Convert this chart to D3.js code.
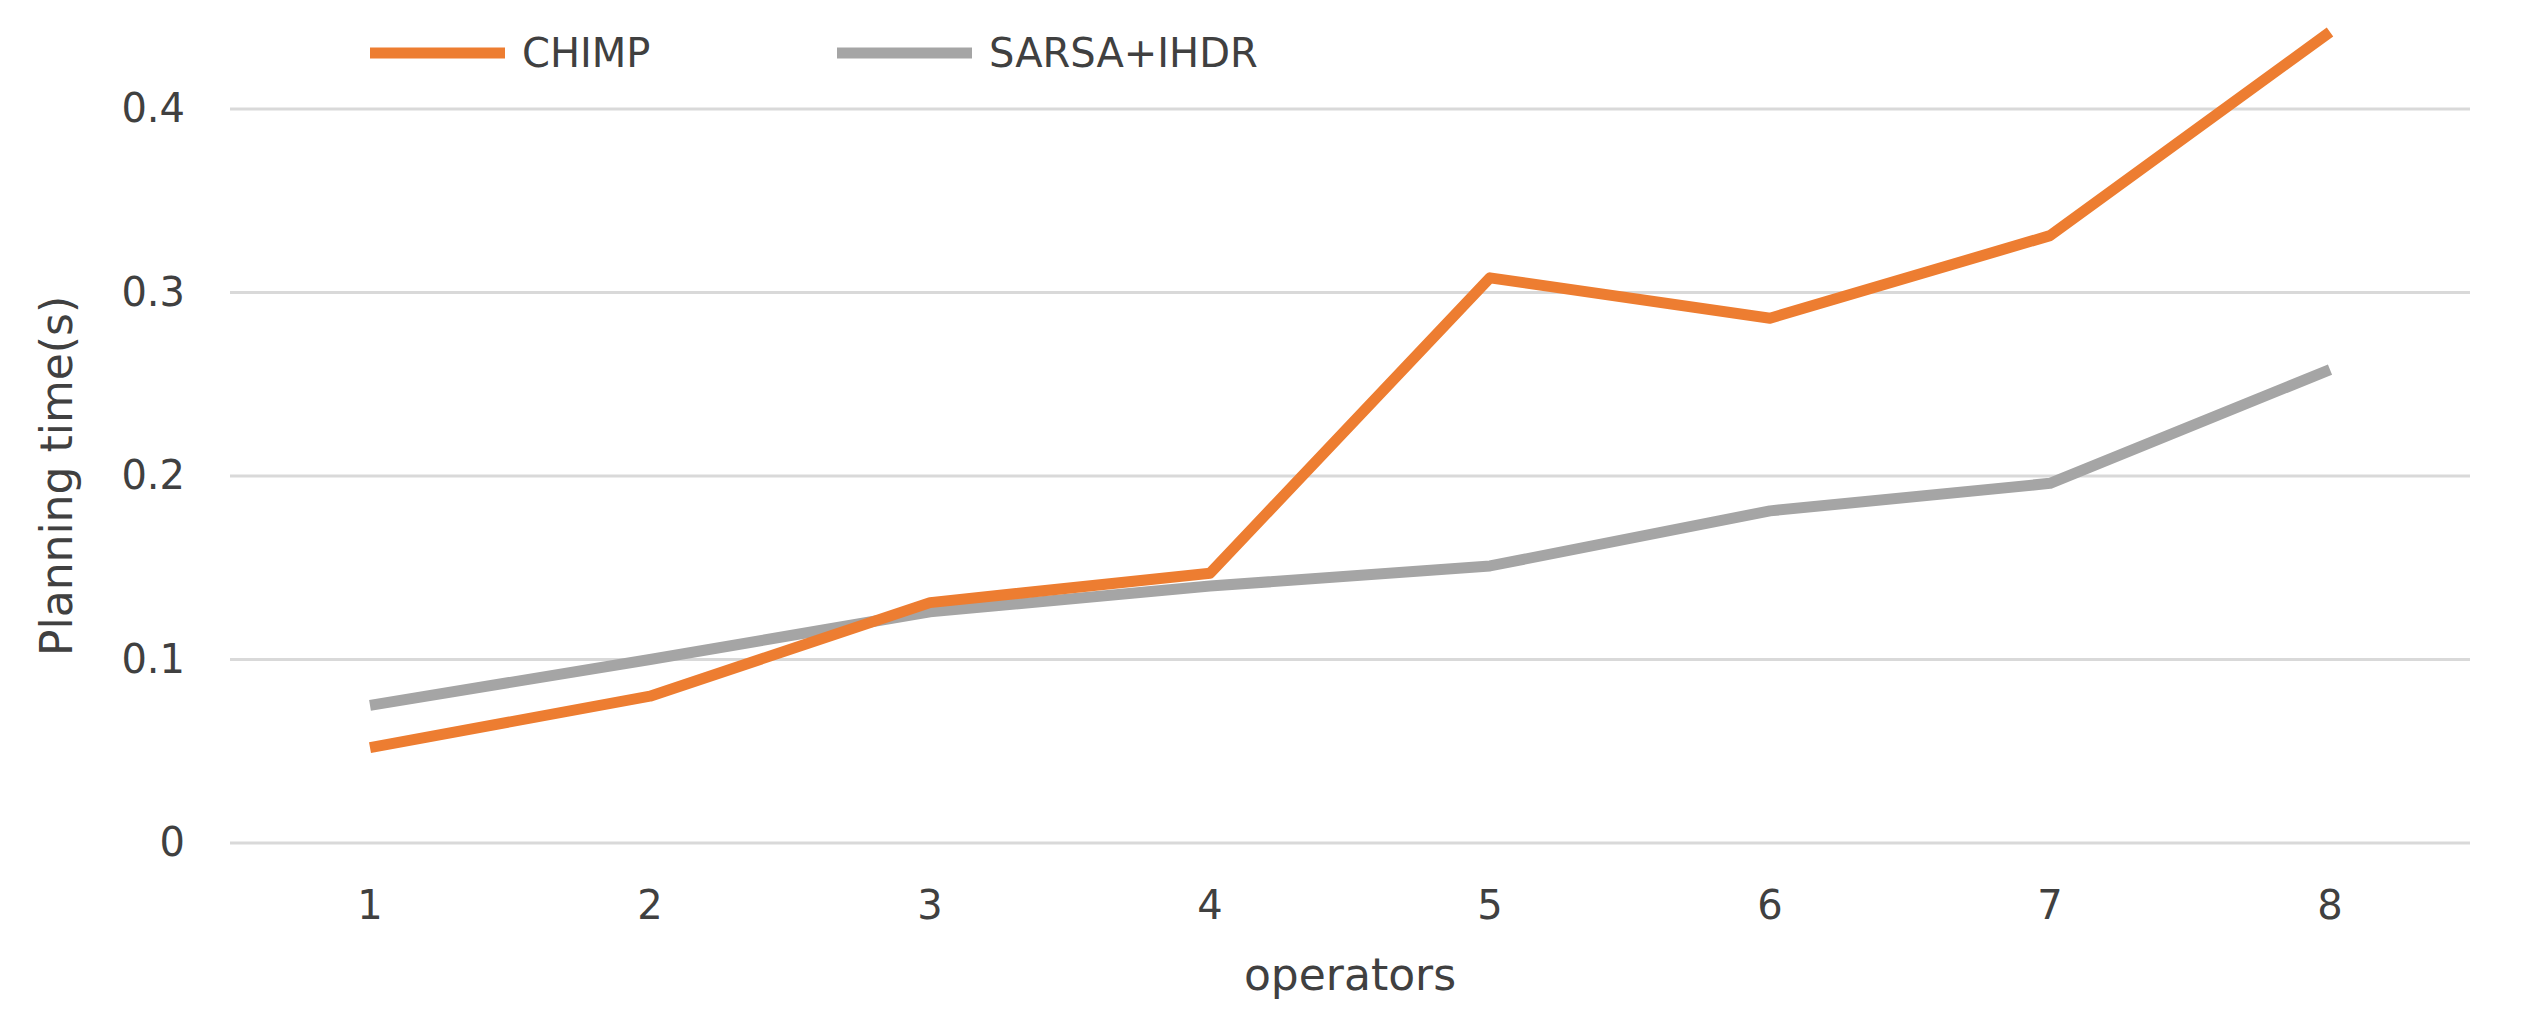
<!DOCTYPE html>
<html>
<head>
<meta charset="utf-8">
<script src="https://cdn.jsdelivr.net/npm/d3@7"></script>
<style>
  body { margin: 0; background: #fff; }
  text { font-family: "DejaVu Sans", sans-serif; fill: #404040; }
</style>
</head>
<body>
<div id="chart"></div>
<script>
const categories = ["1", "2", "3", "4", "5", "6", "7", "8"];
const chimp = [0.052, 0.080, 0.131, 0.147, 0.308, 0.286, 0.331, 0.442];
const sarsa = [0.075, 0.100, 0.126, 0.140, 0.151, 0.181, 0.196, 0.258];
const yTicks = [0, 0.1, 0.2, 0.3, 0.4];

const width = 2523, height = 1034;
const margin = { left: 230, right: 53, top: 109, bottom: 191 };

const svg = d3.select("#chart").append("svg")
  .attr("width", width).attr("height", height);

// x is categorical, points sit in band centres
const x = d3.scaleBand().domain(categories)
  .range([margin.left, width - margin.right]);
const y = d3.scaleLinear().domain([0, 0.4])
  .range([height - margin.bottom, margin.top]);

// gridlines
svg.append("g")
  .selectAll("line").data(yTicks).enter().append("line")
  .attr("x1", margin.left).attr("x2", width - margin.right)
  .attr("y1", d => y(d)).attr("y2", d => y(d))
  .attr("stroke", "#d9d9d9").attr("stroke-width", 3);

// y axis labels
svg.append("g")
  .attr("transform", `translate(${margin.left - 42},0)`)
  .call(d3.axisLeft(y).tickValues(yTicks).tickFormat(d => d === 0 ? "0" : d3.format(".1f")(d)).tickSize(0))
  .call(g => g.select(".domain").remove())
  .selectAll("text").attr("font-size", 40).attr("fill", "#404040")
  .style("font-family", "DejaVu Sans, sans-serif");

// x axis labels
svg.append("g")
  .attr("transform", `translate(0,${height - margin.bottom + 45})`)
  .call(d3.axisBottom(x).tickSize(0))
  .call(g => g.select(".domain").remove())
  .selectAll("text").attr("font-size", 40).attr("fill", "#404040")
  .style("font-family", "DejaVu Sans, sans-serif");

// axis titles
svg.append("text")
  .attr("x", (margin.left + width - margin.right) / 2).attr("y", 990)
  .attr("text-anchor", "middle").attr("font-size", 44).text("operators");
svg.append("text")
  .attr("transform", "translate(72,476) rotate(-90)")
  .attr("text-anchor", "middle").attr("font-size", 44).text("Planning time(s)");

const line = d3.line()
  .x((d, i) => x(categories[i]) + x.bandwidth() / 2)
  .y(d => y(d));

const series = [
  { name: "CHIMP", values: chimp, color: "#ED7D31" },
  { name: "SARSA+IHDR", values: sarsa, color: "#A5A5A5" }
];

// draw gray first so orange sits on top like the original
svg.selectAll("path.series").data(series.slice().reverse()).enter().append("path")
  .attr("class", "series")
  .attr("d", d => line(d.values))
  .attr("fill", "none").attr("stroke", d => d.color)
  .attr("stroke-width", 11).attr("stroke-linejoin", "round");

// legend
const legendX = [370, 837];
const legend = svg.selectAll("g.legend").data(series).enter().append("g")
  .attr("transform", (d, i) => `translate(${legendX[i]},53)`);
legend.append("line").attr("x1", 0).attr("x2", 135)
  .attr("stroke", d => d.color).attr("stroke-width", 11);
legend.append("text").attr("x", 152).attr("y", 14)
  .attr("font-size", 40).text(d => d.name);
</script>
</body>
</html>
